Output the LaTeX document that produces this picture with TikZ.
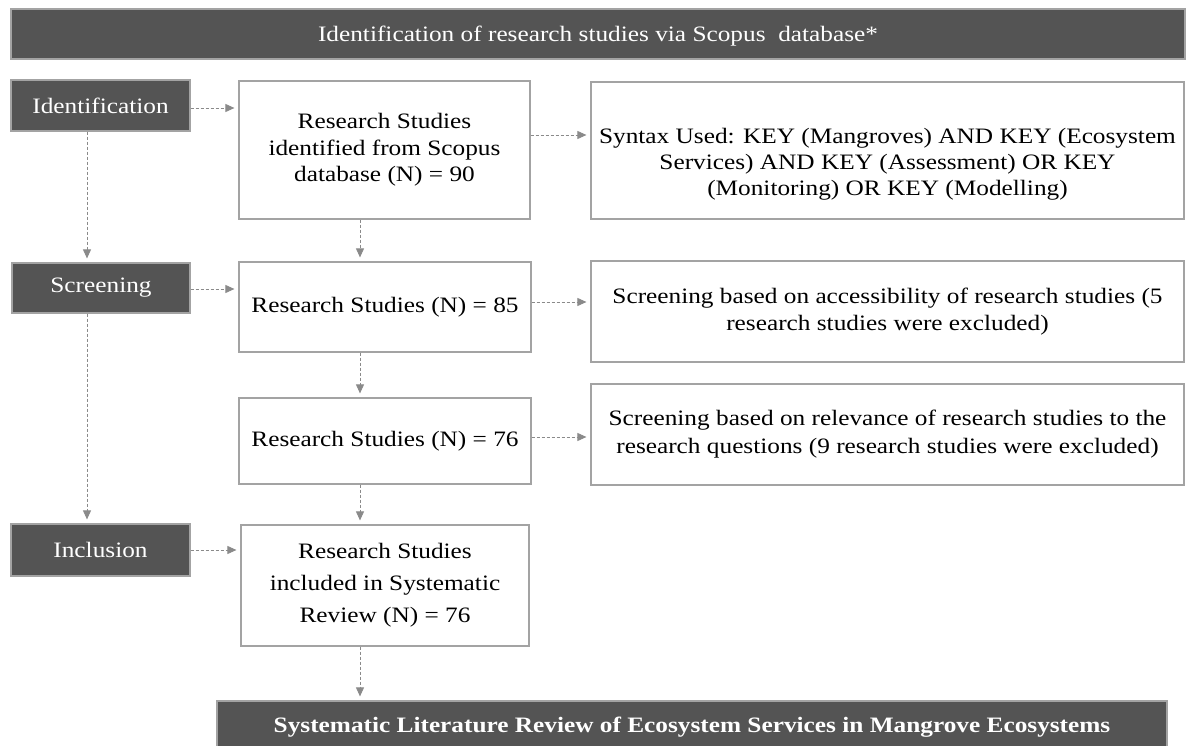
\documentclass[tikz,border=0pt]{standalone}
\usepackage{fontspec}
\setmainfont{Liberation Serif}[FakeStretch=1.15]
\usetikzlibrary{arrows.meta,calc}
\definecolor{darkbox}{HTML}{545454}
\definecolor{edgec}{HTML}{A3A3A3}
\definecolor{arrowc}{HTML}{8A8A8A}
\begin{document}
\begin{tikzpicture}[x=1pt,y=-1pt,
  stagebox/.style={draw=edgec, line width=1.2pt, fill=darkbox, text=white,
    minimum width=179pt, minimum height=51pt, inner sep=0pt,
    font=\fontsize{22}{26}\selectfont},
  flowbox/.style={draw=edgec, line width=1.2pt, fill=white, text=black,
    align=center, inner sep=0pt, font=\fontsize{22}{26.5}\selectfont},
  barbox/.style={draw=edgec, line width=1.2pt, fill=darkbox, text=white, inner sep=0pt},
  flow/.style={draw=arrowc, line width=0.8pt, dash pattern=on 3pt off 2pt,
    -{Triangle[length=9pt,width=8pt]}, shorten >=4pt}
]
\path[use as bounding box, clip] (0,0) rectangle (1187,746);
\fill[white] (0,0) rectangle (1187,746);

% title bar
\node[barbox, minimum width=1174pt, minimum height=50pt] (title) at (598,34) {};
\node[text=white, inner sep=0pt, font=\fontsize{22}{24}\selectfont] (titletxt) at (598,36)
  {Identification of research studies via Scopus~ database*};

% stage labels
\node[stagebox] (idl) at (100.5,105.5) {Identification};
\node[stagebox, minimum width=178pt, minimum height=50pt] (scl) at (101,288) {Screening};
\node[stagebox, minimum height=52pt] (inl) at (100.5,550) {Inclusion};

% middle column
\node[flowbox, minimum width=291pt, minimum height=138pt] (b1) at (384.5,150)
  {Research Studies\\identified from Scopus\\database (N) = 90};
\node[flowbox, minimum width=292pt, minimum height=90pt] (b2) at (385,307)
  {Research Studies (N) = 85};
\node[flowbox, minimum width=292pt, minimum height=86pt] (b3) at (385,441)
  {Research Studies (N) = 76};
\node[flowbox, minimum width=288pt, minimum height=121pt,
  font=\fontsize{22}{32}\selectfont] (b4) at (385,585.5)
  {Research Studies\\included in Systematic\\Review (N) = 76};

% right column
\node[flowbox, minimum width=593pt, minimum height=137pt] (syn) at (887.5,150.5) {};
\node[align=center, inner sep=0pt, font=\fontsize{22}{26}\selectfont] (syntxt) at (887.5,164)
  {Syntax Used: KEY (Mangroves) AND KEY (Ecosystem\\Services) AND KEY (Assessment) OR KEY\\(Monitoring) OR KEY (Modelling)};
\node[flowbox, minimum width=593pt, minimum height=101pt, font=\fontsize{22}{27}\selectfont] (acc) at (887.5,311.5)
  {Screening based on accessibility of research studies (5\\research studies were excluded)};
\node[flowbox, minimum width=593pt, minimum height=101pt, font=\fontsize{22}{28}\selectfont] (rel) at (887.5,434.5)
  {Screening based on relevance of research studies to the\\research questions (9 research studies were excluded)};

% bottom bar
\node[barbox, minimum width=950pt, minimum height=59pt] (bar) at (692,730.5) {};
\node[text=white, inner sep=0pt, font=\fontsize{22}{24}\selectfont\bfseries] (bartxt) at (692,727)
  {Systematic Literature Review of Ecosystem Services in Mangrove Ecosystems};

% horizontal connectors
\coordinate (p1) at ([yshift=-2.5pt]idl.east);
\draw[flow] (p1) -- (p1 -| b1.west);
\coordinate (p2) at ([yshift=15pt]b1.east);
\draw[flow] (p2) -- (p2 -| syn.west);
\coordinate (p3) at ([yshift=-1pt]scl.east);
\draw[flow] (p3) -- (p3 -| b2.west);
\coordinate (p4) at ([yshift=5pt]b2.east);
\draw[flow] (p4) -- (p4 -| acc.west);
\coordinate (p5) at ([yshift=4pt]b3.east);
\draw[flow] (p5) -- (p5 -| rel.west);
\draw[flow] (inl.east) -- (inl.east -| b4.west);

% vertical connectors
\coordinate (p6) at ([xshift=-13.5pt]idl.south);
\draw[flow] (p6) -- (p6 |- scl.north);
\coordinate (p7) at ([xshift=-14pt]scl.south);
\draw[flow] (p7) -- (p7 |- inl.north);
\coordinate (p8) at ([xshift=-24.5pt]b1.south);
\draw[flow] (p8) -- (p8 |- b2.north);
\coordinate (p9) at ([xshift=-25pt]b2.south);
\draw[flow] (p9) -- (p9 |- b3.north);
\coordinate (p10) at ([xshift=-25pt]b3.south);
\draw[flow] (p10) -- (p10 |- b4.north);
\coordinate (p11) at ([xshift=-25pt]b4.south);
\draw[flow] (p11) -- (p11 |- bar.north);
\end{tikzpicture}
\end{document}
